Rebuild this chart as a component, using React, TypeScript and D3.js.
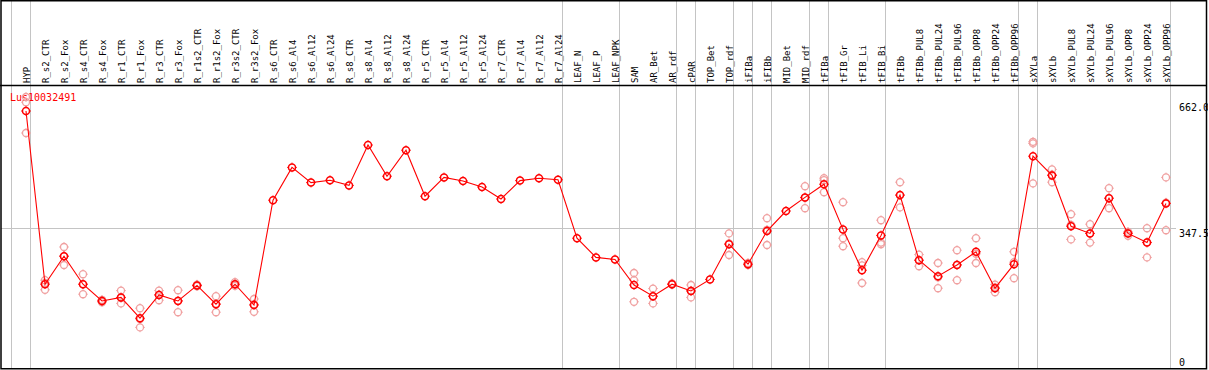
import React from 'react';
import * as d3 from 'd3';

const geneId = 'Lus10032491';

const categories = [
  'HYP', 'R_s2_CTR', 'R_s2_Fox', 'R_s4_CTR', 'R_s4_Fox', 'R_r1_CTR', 'R_r1_Fox', 'R_r3_CTR', 'R_r3_Fox',
  'R_r1s2_CTR', 'R_r1s2_Fox', 'R_r3s2_CTR', 'R_r3s2_Fox', 'R_s6_CTR', 'R_s6_Al4', 'R_s6_Al12', 'R_s6_Al24',
  'R_s8_CTR', 'R_s8_Al4', 'R_s8_Al12', 'R_s8_Al24', 'R_r5_CTR', 'R_r5_Al4', 'R_r5_Al12', 'R_r5_Al24',
  'R_r7_CTR', 'R_r7_Al4', 'R_r7_Al12', 'R_r7_Al24', 'LEAF_N', 'LEAF_P', 'LEAF_NPK', 'SAM', 'AR_Bet', 'AR_rdf',
  'cPAR', 'TOP_Bet', 'TOP_rdf', 'iFIBa', 'iFIBb', 'MID_Bet', 'MID_rdf', 'tFIBa', 'tFIB_Gr', 'tFIB_Li', 'tFIB_Bi',
  'tFIBb', 'tFIBb_PUL8', 'tFIBb_PUL24', 'tFIBb_PUL96', 'tFIBb_OPP8', 'tFIBb_OPP24', 'tFIBb_OPP96',
  'sXYLa', 'sXYLb', 'sXYLb_PUL8', 'sXYLb_PUL24', 'sXYLb_PUL96', 'sXYLb_OPP8', 'sXYLb_OPP24', 'sXYLb_OPP96',
];

// mean expression per sample
const means = [
  640, 207, 277, 207, 165, 174, 122, 180, 165, 204, 157, 207, 155, 417, 499, 461, 467,
  454, 555, 477, 542, 427, 474, 465, 450, 420, 466, 472, 468, 322, 274, 269, 205, 177, 207,
  190, 219, 307, 257, 340, 390, 424, 457, 344, 242, 329, 430, 267, 227, 255, 288, 197, 257,
  527, 479, 352, 334, 422, 334, 311, 409,
];

// biological replicates
const replicates = [
  [675, 662, 585], [217, 210, 193], [300, 255, 277], [232, 182, 207], [168, 165, 162],
  [191, 159, 173], [147, 99, 120], [191, 167, 181], [192, 137, 166], [206, 204, 202],
  [177, 137, 158], [212, 207, 203], [170, 138, 157], [417], [499], [461], [467],
  [454], [555], [477], [542], [427], [474], [465], [450], [420], [466], [472], [468],
  [322], [274], [269], [235, 217, 163], [196, 159, 177], [209, 207, 206],
  [205, 174, 191], [219], [334, 280, 309], [260, 257, 255], [372, 305, 343], [390],
  [452, 397, 423], [472, 467, 437], [412, 322, 302], [262, 210, 254], [367, 311, 307],
  [462, 399, 429], [281, 252, 267], [260, 197, 224], [292, 217, 256], [322, 260, 283],
  [206, 187, 199], [288, 222, 262], [559, 459, 563], [494, 462, 481], [382, 319, 355],
  [357, 311, 334], [447, 397, 422], [338, 328, 336], [347, 274, 312], [474, 342, 411],
];

// last sample of each group (vertical separators)
const groupEnds = [
  'HYP', 'R_r7_Al24', 'LEAF_NPK', 'AR_rdf', 'cPAR', 'TOP_rdf', 'iFIBa', 'iFIBb', 'MID_rdf',
  'tFIBa', 'tFIB_Bi', 'tFIBb_OPP96', 'sXYLa', 'sXYLb_OPP96',
];

const yTicks = [0, 347.5, 662];
const yTickLabels = ['0', '347.5', '662.0'];

const W = 1209;
const H = 370;
const headerY = 85;
const mono = '"DejaVu Sans Mono", "Liberation Mono", monospace';

function Marker({ x, y, color, w }: { x: number; y: number; color: string; w: number }) {
  const r = 3.5;
  const n = 4.8;
  return (
    <g stroke={color} fill="none">
      <circle cx={x} cy={y} r={r} strokeWidth={w} />
      <line x1={x} x2={x} y1={y - r} y2={y - n} strokeWidth={1} />
      <line x1={x} x2={x} y1={y + r} y2={y + n} strokeWidth={1} />
      <line x1={x - r} x2={x - n} y1={y} y2={y} strokeWidth={1} />
      <line x1={x + r} x2={x + n} y1={y} y2={y} strokeWidth={1} />
    </g>
  );
}

export default function App() {
  const x = d3.scalePoint<string>().domain(categories).range([26, 1166]);
  const y = d3.scaleLinear().domain([0, 662]).range([367, 102.2]);
  const step = x.step();

  const seps = [x(categories[0])! - step + 4.5, ...groupEnds.map((c) => x(c)! + 4.5)];

  const line = d3
    .line<number>()
    .x((_, i) => x(categories[i])!)
    .y((d) => y(d));

  return (
    <svg
      width={W}
      height={H}
      style={{ position: 'absolute', left: 0, top: 0, background: '#fff' }}
      fontFamily={mono}
    >
      <rect x={0} y={0} width={W} height={H} fill="#fff" />

      {/* group separators */}
      {seps.map((sx, i) => (
        <line key={`s-${i}`} x1={sx} x2={sx} y1={0} y2={369} stroke="#c4c4c4" strokeWidth={1} />
      ))}

      {/* middle gridline */}
      <line x1={1} x2={1176} y1={Math.round(y(347.5)) + 0.5} y2={Math.round(y(347.5)) + 0.5} stroke="#c4c4c4" strokeWidth={1} />

      {/* sample labels */}
      {categories.map((c) => (
        <text
          key={`l-${c}`}
          transform={`translate(${x(c)! + 3.5},83) rotate(-90)`}
          fontSize={9}
          fill="#000"
        >
          {c}
        </text>
      ))}

      {/* y labels */}
      {yTicks.map((t, i) => (
        <text key={`y-${t}`} x={1179} y={Math.min(y(t) + 8.5, 366)} fontSize={10} fill="#000">
          {yTickLabels[i]}
        </text>
      ))}

      <text x={10} y={100.5} fontSize={10} fill="#ff0000">
        {geneId}
      </text>

      {/* replicates */}
      {replicates.map((reps, i) =>
        reps.length > 1
          ? reps.map((v, j) => (
              <Marker key={`r-${i}-${j}`} x={x(categories[i])!} y={y(v)} color="#f0a0a0" w={1.3} />
            ))
          : null,
      )}

      <path d={line(means) ?? ''} fill="none" stroke="#ff0000" strokeWidth={1.1} />

      {means.map((v, i) => (
        <Marker key={`m-${i}`} x={x(categories[i])!} y={y(v)} color="#ff0000" w={1.5} />
      ))}

      {/* frame */}
      <line x1={0} x2={1207} y1={headerY + 0.5} y2={headerY + 0.5} stroke="#000" strokeWidth={1.5} />
      <rect x={1} y={0.75} width={1205.5} height={368} fill="none" stroke="#000" strokeWidth={1.5} />
      <rect x={1208} y={0} width={1} height={H} fill="#fff" />
    </svg>
  );
}
